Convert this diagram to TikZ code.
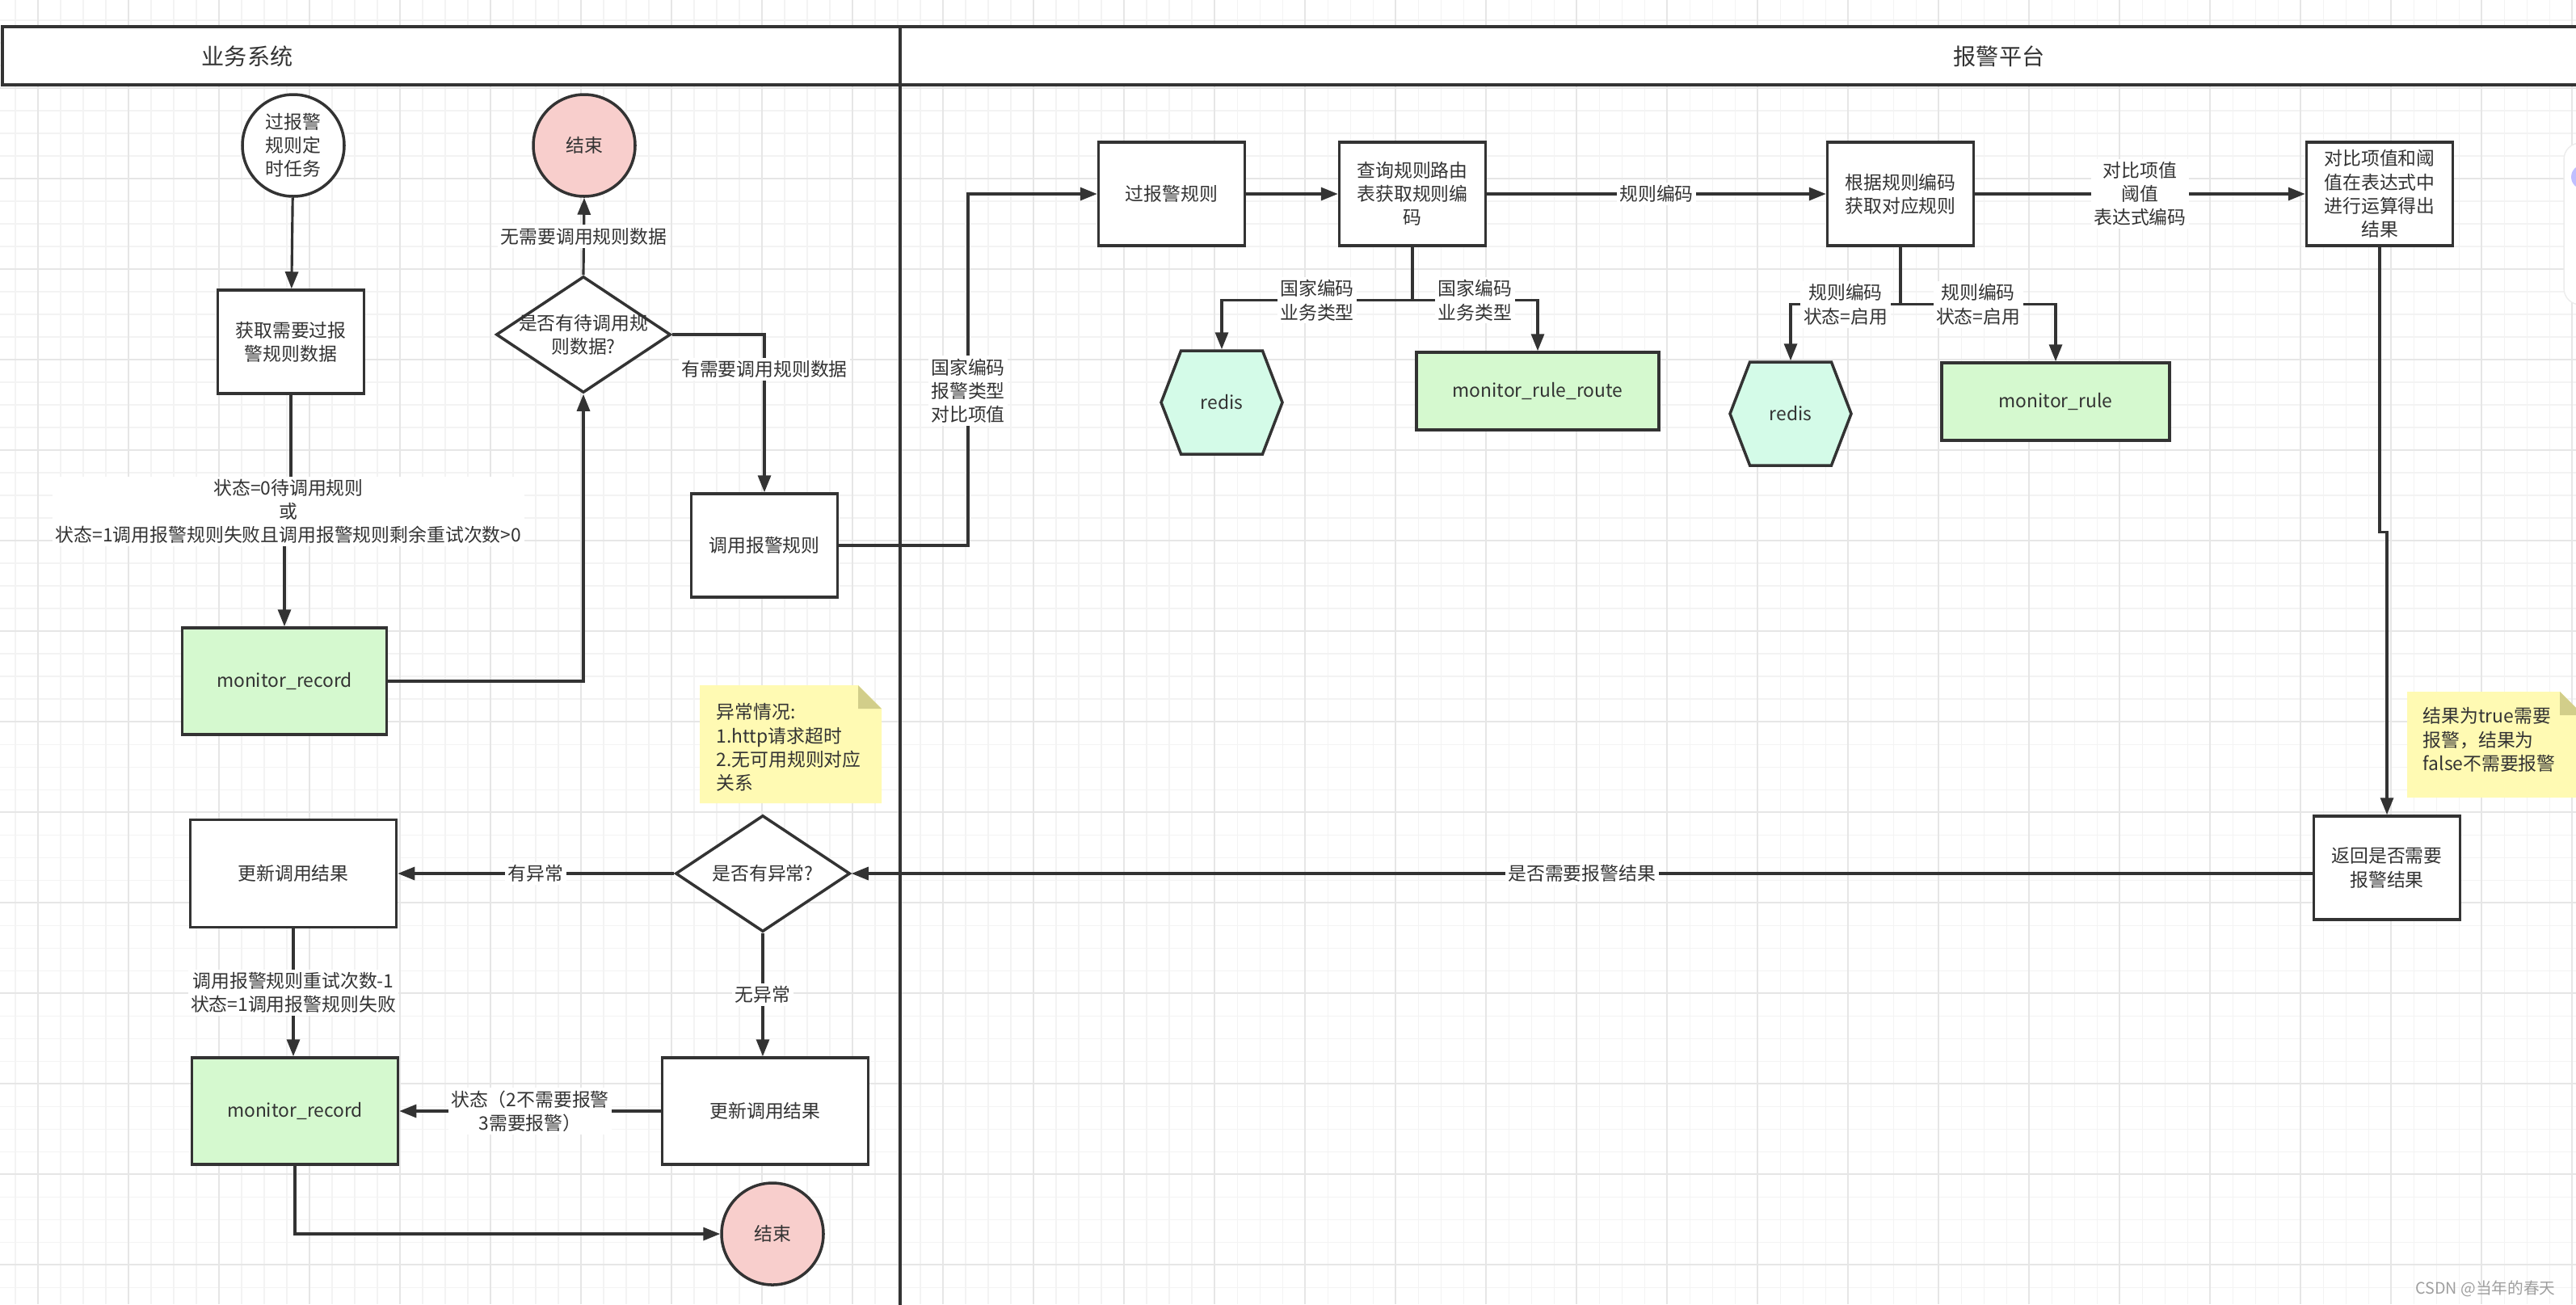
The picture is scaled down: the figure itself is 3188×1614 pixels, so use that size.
\documentclass[tikz,border=0pt]{standalone}
\usepackage{fontspec}
\setmainfont{Noto Sans CJK SC}
\usetikzlibrary{shapes.geometric,shapes.symbols,arrows.meta,calc}

\definecolor{linec}{HTML}{333333}
\definecolor{txtc}{HTML}{333333}
\definecolor{dbfill}{HTML}{D5F9CF}
\definecolor{cachefill}{HTML}{D4FBE8}
\definecolor{endfill}{HTML}{F8CECC}
\definecolor{notefill}{HTML}{FFFAB3}
\definecolor{foldfill}{HTML}{D2CE8A}
\definecolor{gridminor}{HTML}{F3F3F3}
\definecolor{gridmajor}{HTML}{E6E6E6}

\tikzset{
  base/.style={font=\fontsize{6.5}{8.3}\selectfont, text=txtc, align=center},
  box/.style={base, rectangle, draw=linec, line width=1pt, fill=white,
    minimum width=18.1mm, minimum height=12.8mm, inner sep=1pt},
  dbbox/.style={box, fill=dbfill},
  cache/.style={base, signal, signal to=east and west, signal pointer angle=138,
    draw=linec, line width=1pt, fill=cachefill, minimum width=15mm,
    minimum height=12.8mm, inner sep=0pt},
  startnode/.style={base, circle, draw=linec, line width=1pt, fill=white,
    minimum size=12.6mm, inner sep=0pt},
  endnode/.style={startnode, fill=endfill},
  decision/.style={base, diamond, aspect=1.5, draw=linec, line width=1pt,
    fill=white, minimum width=21.6mm, minimum height=14.4mm, inner sep=0pt},
  flow/.style={draw=linec, line width=0.9pt, -{Triangle[length=2.1mm,width=1.6mm]}},
  lbl/.style={base, fill=white, inner sep=1pt},
  note/.style={base, align=left, anchor=north west, inner sep=0pt},
  pool/.style={draw=linec, line width=1.1pt},
  pooltitle/.style={font=\fontsize{8}{10}\selectfont, text=txtc},
}

\begin{document}
\begin{tikzpicture}[x=0.1mm, y=-0.1mm]
\useasboundingbox (0,0) rectangle (3188,1614);
\clip (0,0) rectangle (3188,1614);

% grid
\foreach \gx in {19,47,...,3188} \draw[gridminor, line width=0.3pt] (\gx,0) -- (\gx,1614);
\foreach \gy in {25,53,...,1614} \draw[gridminor, line width=0.3pt] (0,\gy) -- (3188,\gy);
\foreach \gx in {47,159,...,3188} \draw[gridmajor, line width=0.45pt] (\gx,0) -- (\gx,1614);
\foreach \gy in {109,221,...,1614} \draw[gridmajor, line width=0.45pt] (0,\gy) -- (3188,\gy);

% lanes
\filldraw[pool, fill=white] (3,33) rectangle (1114,105);
\filldraw[pool, fill=white] (1114,33) rectangle (3240,105);
\draw[pool] (1114,105) -- (1114,1640);
\node[pooltitle] (laneA) at (306,70) {业务系统};
\node[pooltitle] (laneB) at (2474,70) {报警平台};

\node[startnode] (start) at (363,180) {过报警\\规则定\\时任务};
\node[box] (fetch) at (360,423) {获取需要过报\\警规则数据};
\node[dbbox, minimum width=25.3mm, minimum height=13.2mm] (rec1) at (352,843) {monitor\_record};
\node[decision, label={[base]center:是否有待调用规\\则数据?}] (ask) at (722,414) {};
\node[endnode] (end1) at (723,180) {结束};
\node[box] (call) at (946,675) {调用报警规则};

\node[box] (check) at (1450,240) {过报警规则};
\node[box] (route) at (1748,240) {查询规则路由\\表获取规则编\\码};
\node[cache] (redis1) at (1512,498) {redis};
\node[dbbox, minimum width=30mm, minimum height=9.6mm] (routetab) at (1903,484) {monitor\_rule\_route};
\node[box] (getrule) at (2352,240) {根据规则编码\\获取对应规则};
\node[cache] (redis2) at (2216,512) {redis};
\node[dbbox, minimum width=28.2mm, minimum height=9.6mm] (ruletab) at (2544,497) {monitor\_rule};
\node[box] (calc) at (2945,240) {对比项值和阈\\值在表达式中\\进行运算得出\\结果};
\node[box] (ret) at (2954,1074) {返回是否需要\\报警结果};

\node[decision] (exc) at (944,1081) {是否有异常?};
\node[box, minimum width=25.5mm, minimum height=13.3mm] (upd1) at (363,1081) {更新调用结果};
\node[dbbox, minimum width=25.5mm, minimum height=13.2mm] (rec2) at (365,1375) {monitor\_record};
\node[box, minimum width=25.5mm, minimum height=13.2mm] (upd2) at (947,1375) {更新调用结果};
\node[endnode] (end2) at (956,1527) {结束};

% notes
\fill[notefill] (866,848) -- (1062,848) -- (1091,877) -- (1091,994) -- (866,994) -- cycle;
\fill[foldfill] (1062,848) -- (1062,877) -- (1091,877) -- cycle;
\node[note] (note1) at (886,870) {异常情况:\\1.http请求超时\\2.无可用规则对应\\关系};
\fill[notefill] (2979,856) -- (3168,856) -- (3197,885) -- (3197,987) -- (2979,987) -- cycle;
\fill[foldfill] (3168,856) -- (3168,885) -- (3197,885) -- cycle;
\node[note] (note2) at (2998,875) {结果为true需要\\报警，结果为\\false不需要报警};

\draw[flow] (start) -- (fetch);
\coordinate (j1) at (357,633);
\draw[flow] (fetch.south) |- (j1) -| (rec1.north);
\node[lbl] (cond) at (j1) {状态=0待调用规则\\或\\状态=1调用报警规则失败且调用报警规则剩余重试次数>0};
\draw[flow] (rec1.east) -| (ask.south);
\draw[flow] (ask.north) -- node[lbl]{无需要调用规则数据} (end1.south);
\draw[flow] (ask.east) -| node[lbl, pos=0.61]{有需要调用规则数据} (call.north);
\coordinate (up1) at (1198,240);
\draw[flow] (call.east) -| node[lbl, pos=0.72]{国家编码\\报警类型\\对比项值} (up1) -- (check.west);
\draw[flow] (check) -- (route);
\draw[flow] (route) -- node[lbl]{规则编码} (getrule);
\draw[flow] (route.south) -- ++(0,66) -| node[lbl, pos=0.25]{国家编码\\业务类型} (redis1.north);
\draw[flow] (route.south) -- ++(0,66) -| node[lbl, pos=0.25]{国家编码\\业务类型} (routetab.north);
\draw[flow] (getrule.south) -- ++(0,71) -| node[lbl, pos=0.25]{规则编码\\状态=启用} (redis2.north);
\draw[flow] (getrule.south) -- ++(0,71) -| node[lbl, pos=0.25]{规则编码\\状态=启用} (ruletab.north);
\draw[flow] (getrule) -- node[lbl]{对比项值\\阈值\\表达式编码} (calc);
\draw[flow] (calc.south) -- ++(0,353) -| (ret.north);
\draw[flow] (ret.west |- exc.east) -- node[lbl]{是否需要报警结果} (exc.east);
\draw[flow] (exc) -- node[lbl]{有异常} (upd1);
\draw[flow] (upd1.south) -- node[lbl]{调用报警规则重试次数-1\\状态=1调用报警规则失败} (upd1.south |- rec2.north);
\draw[flow] (exc.south) -- node[lbl]{无异常} (exc.south |- upd2.north);
\draw[flow] (upd2) -- node[lbl]{状态（2不需要报警\\3需要报警）} (rec2);
\draw[flow] (rec2.south) |- (end2.west);

% side panel and mark
\filldraw[fill=white, draw=gray!15, rounded corners=2mm] (3173,177) rectangle (3240,377);
\fill[blue!25!white] (3197,219) circle (15);
\node[anchor=east, font=\fontsize{5.6}{7}\selectfont, text=gray!75] (mark) at (3175,1595) {CSDN @当年的春天};
\end{tikzpicture}
\end{document}
